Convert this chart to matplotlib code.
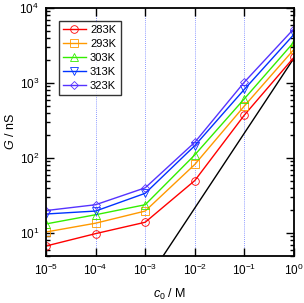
import matplotlib
matplotlib.use("Agg")
import matplotlib.pyplot as plt
import matplotlib.ticker as mticker
import numpy as np

plt.rcParams["font.family"] = ["Liberation Sans", "DejaVu Sans"]
plt.rcParams["mathtext.fontset"] = "custom"
plt.rcParams["mathtext.rm"] = "Liberation Sans"
plt.rcParams["mathtext.it"] = "Liberation Sans:italic"

# concentration (M)
c0 = [1e-5, 1e-4, 1e-3, 1e-2, 1e-1, 1e0]

temps = ["283K", "293K", "303K", "313K", "323K"]
G_283 = [6.7, 9.8, 13.9, 50, 374, 2200]
G_293 = [10.3, 13.5, 19.6, 82, 494, 2810]
G_303 = [13.2, 17.5, 23.8, 110, 617, 3520]
G_313 = [17.9, 19.6, 33.8, 146, 824, 4460]
G_323 = [19.9, 23.8, 40.0, 162, 1030, 5300]
series = [G_283, G_293, G_303, G_313, G_323]

colors = ["#ff0000", "#ff9900", "#33ee00", "#0033ff", "#5533ff"]
markers = ["o", "s", "^", "v", "D"]

# linear reference line G = k * c0
k_ref = 2150
c_ref = [1e-3, 1e0]

fig = plt.figure(figsize=(3.04, 3.03), dpi=100)
ax = fig.add_axes([46 / 304, 47 / 303, 248 / 304, 248 / 303])

for x in [1e-4, 1e-3, 1e-2, 1e-1]:
    ax.axvline(x, color="#6677ff", linestyle=(0, (1, 1.5)), linewidth=0.6, zorder=0)

ax.plot(c_ref, [k_ref * c for c in c_ref], color="black", linewidth=1.0)

for lab, g, col, mk in zip(temps, series, colors, markers):
    ms = 4 if mk == "D" else 5.5
    ax.plot(c0, g, color=col, linewidth=1.0, marker=mk, markersize=ms,
            markerfacecolor="none", markeredgecolor=col, markeredgewidth=0.6,
            label=lab)

ax.set_xscale("log")
ax.set_yscale("log")
ax.set_xlim(1e-5, 1e0)
ax.set_ylim(4.93, 1e4)

ax.xaxis.set_major_locator(mticker.LogLocator(base=10, numticks=10))
ax.xaxis.set_minor_locator(mticker.NullLocator())
ax.yaxis.set_major_locator(mticker.LogLocator(base=10, numticks=10))
ax.yaxis.set_minor_locator(mticker.LogLocator(base=10, subs=np.arange(2, 10), numticks=10))
ax.yaxis.set_minor_formatter(mticker.NullFormatter())

ax.tick_params(which="both", direction="in", top=True, right=True,
               labelsize=8.5, width=1.0)
ax.tick_params(which="major", length=6, pad=5)
ax.tick_params(which="minor", length=3)
for s in ax.spines.values():
    s.set_linewidth(1.3)

ax.set_xlabel("$c_0$ / M", fontsize=9, labelpad=6)
ax.set_ylabel("$G$ / nS", fontsize=9, labelpad=2)

leg = ax.legend(loc="upper left", bbox_to_anchor=(0.052, 0.948), fontsize=8,
                frameon=True, fancybox=False, edgecolor="black",
                handlelength=2.0, borderpad=0.4, labelspacing=0.35,
                handletextpad=0.4, borderaxespad=0)
leg.get_frame().set_linewidth(1.0)

plt.savefig("out.png", dpi=100, facecolor="white")
